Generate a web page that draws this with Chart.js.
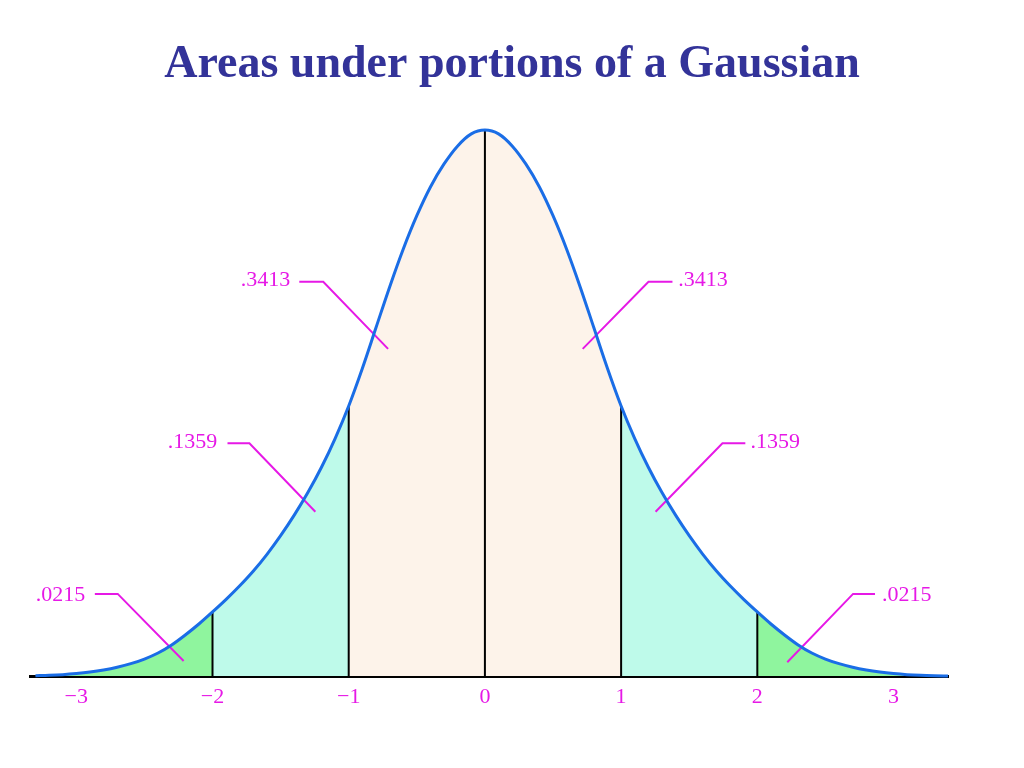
<!DOCTYPE html>
<html>
<head>
<meta charset="utf-8">
<title>Areas under portions of a Gaussian</title>
<script src="https://cdn.jsdelivr.net/npm/chart.js@4/dist/chart.umd.min.js"></script>
<style>
  html, body { margin: 0; padding: 0; background: #fff; }
  #wrap { width: 1024px; height: 768px; }
</style>
</head>
<body>
<div id="wrap"><canvas id="gauss" width="1024" height="768"></canvas></div>
<script>
// curve samples (x in sigma, y in density)
const xs = [-3.3, -3.2, -3.1, -3.0, -2.9, -2.8, -2.7, -2.6, -2.5, -2.4, -2.3, -2.2, -2.1, -2.0,
  -1.9, -1.8, -1.7, -1.6, -1.5, -1.4, -1.3, -1.2, -1.1, -1.0, -0.9, -0.8, -0.7, -0.6, -0.5,
  -0.4, -0.3, -0.2, -0.1, 0.0, 0.1, 0.2, 0.3, 0.4, 0.5, 0.6, 0.7, 0.8, 0.9, 1.0, 1.1, 1.2,
  1.3, 1.4, 1.5, 1.6, 1.7, 1.8, 1.9, 2.0, 2.1, 2.2, 2.3, 2.4, 2.5, 2.6, 2.7, 2.8, 2.9, 3.0,
  3.1, 3.2, 3.3, 3.4];
const ys = [0.0002, 0.0005, 0.0010, 0.0018, 0.0029, 0.0044, 0.0064, 0.0090, 0.0124, 0.0168,
  0.0227, 0.0300, 0.0380, 0.0468, 0.0560, 0.0659, 0.0767, 0.0889, 0.1025, 0.1175, 0.1340,
  0.1525, 0.1735, 0.1973, 0.2247, 0.2544, 0.2841, 0.3118, 0.3363, 0.3573, 0.3741, 0.3873,
  0.3961, 0.3989, 0.3961, 0.3873, 0.3741, 0.3573, 0.3363, 0.3118, 0.2841, 0.2544, 0.2247,
  0.1973, 0.1735, 0.1525, 0.1340, 0.1175, 0.1025, 0.0889, 0.0767, 0.0659, 0.0560, 0.0468,
  0.0380, 0.0300, 0.0227, 0.0168, 0.0124, 0.0090, 0.0064, 0.0044, 0.0029, 0.0018, 0.0010,
  0.0005, 0.0002, 0.0000];

// shaded bands and the dividers between them
const bandEdges = [-3.3, -2, -1, 1, 2, 3.4];
const bandColors = ["#8ff59e", "#befaea", "#fdf3ea", "#befaea", "#8ff59e"];
const dividers = [-2, -1, 0, 1, 2];

const tickValues = [-3, -2, -1, 0, 1, 2, 3];
const tickLabels = ["\u22123", "\u22122", "\u22121", "0", "1", "2", "3"];

// area labels with their leader lines
const areaLabels = [".3413", ".3413", ".1359", ".1359", ".0215", ".0215"];
const labelX = [-1.43, 1.42, -1.965, 1.95, -2.935, 2.915];
const labelY = [0.289, 0.289, 0.171, 0.171, 0.059, 0.059];
const labelAlign = ["right", "left", "right", "left", "right", "left"];
const leaderX = [
  [-1.363, -1.187, -0.711], [1.377, 1.201, 0.718],
  [-1.890, -1.729, -1.245], [1.912, 1.744, 1.253],
  [-2.864, -2.696, -2.212], [2.864, 2.703, 2.220]
];
const leaderY = [
  [0.288, 0.288, 0.239], [0.288, 0.288, 0.239],
  [0.170, 0.170, 0.120], [0.170, 0.170, 0.120],
  [0.060, 0.060, 0.011], [0.060, 0.060, 0.010]
];

const curve = xs.map((x, i) => ({ x: x, y: ys[i] }));

const datasets = [];
datasets.push({
  data: curve,
  borderColor: "#1a6de6",
  borderWidth: 3,
  pointRadius: 0,
  cubicInterpolationMode: "monotone",
  fill: false,
  order: 0,
  clip: false
});
leaderX.forEach((lx, k) => {
  datasets.push({
    data: lx.map((x, i) => ({ x: x, y: leaderY[k][i] })),
    borderColor: "#e619e6",
    borderWidth: 2,
    pointRadius: 0,
    fill: false,
    order: 1
  });
});
dividers.forEach((d) => {
  const i = xs.findIndex((x) => Math.abs(x - d) < 1e-9);
  datasets.push({
    data: [{ x: d, y: 0 }, { x: d, y: ys[i] }],
    borderColor: "#000",
    borderWidth: 2,
    pointRadius: 0,
    fill: false,
    order: 2
  });
});
bandColors.forEach((c, b) => {
  const lo = bandEdges[b], hi = bandEdges[b + 1];
  datasets.push({
    data: curve.filter((p) => p.x >= lo - 1e-9 && p.x <= hi + 1e-9),
    borderWidth: 0,
    pointRadius: 0,
    cubicInterpolationMode: "monotone",
    backgroundColor: c,
    fill: "origin",
    order: 5
  });
});

const labelPlugin = {
  id: "areaLabels",
  afterDatasetsDraw(chart) {
    const ctx = chart.ctx;
    const sx = chart.scales.x, sy = chart.scales.y;
    ctx.save();
    ctx.font = '22px "Liberation Serif", "Times New Roman", serif';
    ctx.fillStyle = "#e619e6";
    ctx.textBaseline = "middle";
    areaLabels.forEach((t, i) => {
      ctx.textAlign = labelAlign[i];
      ctx.fillText(t, sx.getPixelForValue(labelX[i]), sy.getPixelForValue(labelY[i]));
    });
    ctx.restore();
  }
};

new Chart(document.getElementById("gauss"), {
  type: "line",
  data: { datasets: datasets },
  options: {
    responsive: false,
    animation: false,
    layout: { padding: { left: 30, right: 30, top: 0, bottom: 52 } },
    plugins: {
      legend: { display: false },
      tooltip: { enabled: false },
      title: {
        display: true,
        text: "Areas under portions of a Gaussian",
        color: "#333399",
        font: { family: '"Liberation Serif", "Times New Roman", serif', size: 46, weight: "bold", lineHeight: 1.2 },
        padding: { top: 38, bottom: 35.3 }
      }
    },
    scales: {
      x: {
        type: "linear",
        min: -3.34,
        max: 3.4,
        afterBuildTicks: (scale) => { scale.ticks = tickValues.map((v) => ({ value: v })); },
        afterFit: (scale) => { scale.height = 40; },
        grid: { display: false, drawTicks: false },
        border: { display: true, color: "#000", width: 3 },
        ticks: {
          color: "#e619e6",
          padding: 8,
          font: { family: '"Liberation Serif", "Times New Roman", serif', size: 22 },
          callback: (v) => tickLabels[tickValues.indexOf(v)]
        }
      },
      y: {
        display: false,
        min: 0,
        max: 0.4
      },
      // empty strip on the right so the plot sits where the picture has it
      spacer: {
        position: "right",
        display: true,
        afterFit: (scale) => { scale.width = 46; },
        grid: { display: false },
        border: { display: false },
        ticks: { display: false }
      }
    }
  },
  plugins: [labelPlugin]
});
</script>
</body>
</html>
